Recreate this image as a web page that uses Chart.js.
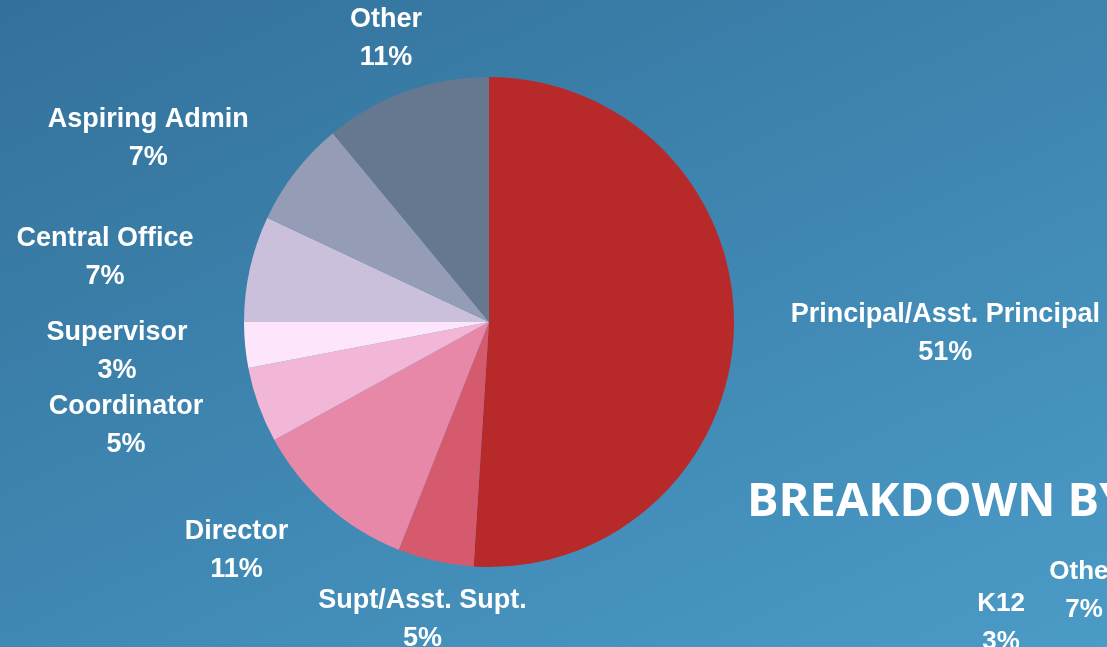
<!DOCTYPE html>
<html>
<head>
<meta charset="utf-8">
<script src="https://cdn.jsdelivr.net/npm/chart.js@4"></script>
<style>
  html, body { margin: 0; padding: 0; }
  body {
    width: 1107px; height: 647px; overflow: hidden; position: relative;
    background: linear-gradient(155deg, #33719a 0%, #3d84af 45%, #4b9bc7 100%);
  }
  #wrap { position: absolute; left: 0; top: 0; width: 1107px; height: 647px; }
  .title {
    position: absolute; left: 747px; top: 468px; white-space: nowrap;
    font-family: "Open Sans", sans-serif; font-weight: 700; font-size: 47px;
    color: #fff; line-height: 60px;
  }
  .sub {
    position: absolute; color: #fff; font-family: "Liberation Sans", Arial, sans-serif;
    font-weight: 700; font-size: 26px; text-align: center; line-height: 38px; white-space: nowrap;
  }
</style>
</head>
<body>
<div id="wrap"><canvas id="c" width="1107" height="647"></canvas></div>
<div class="title">BREAKDOWN BY</div>
<div class="sub" style="left:970px; top:583px; width:62px;">K12<br>3%</div>
<div class="sub" style="left:1047px; top:551px; width:74px;">Other<br>7%</div>
<script>
const categories = ["Principal/Asst. Principal", "Supt/Asst. Supt.", "Director", "Coordinator", "Supervisor", "Central Office", "Aspiring Admin", "Other"];
const percentages = [51, 5, 11, 5, 3, 7, 7, 11];
const sliceColors = ["#b82a2a", "#d65a6e", "#e888a8", "#f2b6d6", "#fde6fb", "#cac0dc", "#959cb5", "#66788f"];
// label layout tweaks (pixels) relative to default outside placement
const labelNudge = [[37, 2], [14, 2], [-43, 1], [-41, 1], [-38, 1], [-39, 2], [-52, 2], [-1, 2]];

const outsideLabels = {
  id: 'outsideLabels',
  afterDatasetsDraw(chart) {
    const ctx = chart.ctx;
    const meta = chart.getDatasetMeta(0);
    const data = chart.data.datasets[0].data;
    const total = data.reduce((a, b) => a + b, 0);
    ctx.save();
    ctx.font = 'bold 27px "Liberation Sans", Arial, sans-serif';
    ctx.fillStyle = '#ffffff';
    ctx.textAlign = 'center';
    ctx.textBaseline = 'middle';
    const lineH = 38, gap = 20;
    meta.data.forEach((arc, i) => {
      const mid = (arc.startAngle + arc.endAngle) / 2;
      const ux = Math.cos(mid), uy = Math.sin(mid);
      const l1 = chart.data.labels[i];
      const l2 = Math.round(data[i] / total * 100) + '%';
      const w = Math.max(ctx.measureText(l1).width, ctx.measureText(l2).width);
      const h = lineH * 2;
      const ax = arc.x + (arc.outerRadius + gap) * ux;
      const ay = arc.y + (arc.outerRadius + gap) * uy;
      const cx = ax + ux * w / 2 + labelNudge[i][0];
      const cy = ay + uy * h / 2 + labelNudge[i][1];
      ctx.fillText(l1, cx, cy - lineH / 2);
      ctx.fillText(l2, cx, cy + lineH / 2);
    });
    ctx.restore();
  }
};

new Chart(document.getElementById('c'), {
  type: 'pie',
  data: {
    labels: categories,
    datasets: [{ data: percentages, backgroundColor: sliceColors, borderWidth: 0 }]
  },
  options: {
    responsive: false,
    animation: false,
    layout: { padding: { left: 244, right: 373, top: 77, bottom: 80 } },
    plugins: { legend: { display: false }, tooltip: { enabled: false } }
  },
  plugins: [outsideLabels]
});
</script>
</body>
</html>
